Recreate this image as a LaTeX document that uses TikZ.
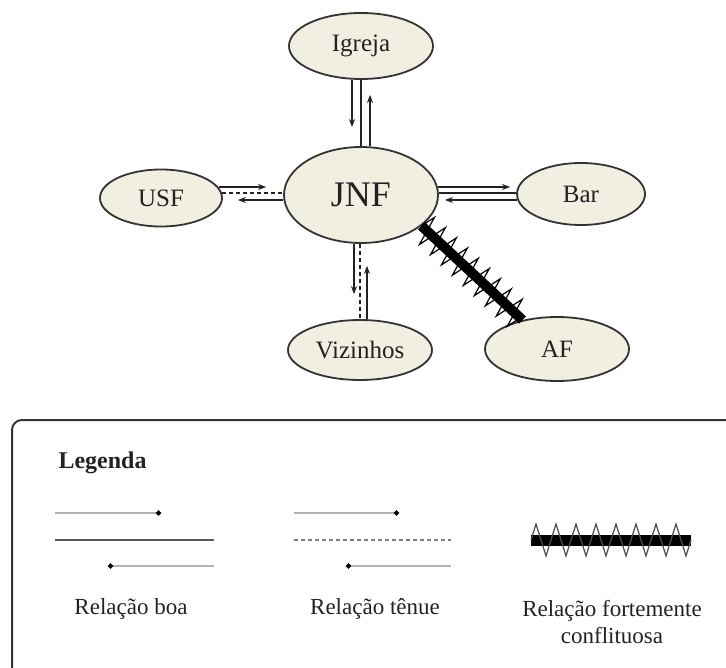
\documentclass[tikz,border=0pt]{standalone}
\usepackage{fontspec}
\setmainfont{Liberation Serif}
\usetikzlibrary{shapes.geometric,arrows.meta,decorations.pathmorphing}

\begin{document}
\begin{tikzpicture}[x=1pt, y=-1pt, >={Stealth[length=8pt,width=6pt]}]
	
	% ==========================================
	% 1. CORES
	% ==========================================
	\definecolor{elipcol}{RGB}{241, 239, 226}   % creme das elipses
	\definecolor{bordacol}{RGB}{51, 51, 51}     % contorno
	\definecolor{linhacol}{RGB}{34, 34, 34}     % linhas e texto
	\definecolor{legcol}{RGB}{180, 180, 180}    % linhas claras da legenda
	
	% ==========================================
	% 2. ESTILOS
	% ==========================================
	\tikzset{
		ator/.style={ellipse, draw=bordacol, line width=1.8pt, fill=elipcol, inner sep=0pt,
			font=\fontsize{25}{30}\selectfont, text=linhacol},
		boa/.style={line width=1.4pt, draw=linhacol},
		tenue/.style={line width=1.4pt, draw=linhacol, dash pattern=on 4pt off 3pt},
		conflito/.style={line width=10pt, draw=black,
			postaction={draw, line width=1.2pt, decorate,
				decoration={zigzag, amplitude=15pt, segment length=15pt}}},
		legseta/.style={line width=1.5pt, draw=legcol, -{Circle[length=5pt, color=black]}},
		legtxt/.style={font=\fontsize{23}{27}\selectfont, text=linhacol}
	}
	
	\clip (0,0) rectangle (726,668);
	
	% ==========================================
	% 3. ELIPSES (ATORES)
	% ==========================================
	\node[ator, minimum width=154pt, minimum height=96pt, font=\fontsize{36}{40}\selectfont] (jnf) at (361,195) {JNF};
	\node[ator, minimum width=144pt, minimum height=66pt] (igreja) at (361,46) {Igreja};
	\node[ator, minimum width=122pt, minimum height=57pt] (usf) at (161,198) {USF};
	\node[ator, minimum width=128pt, minimum height=62pt] (bar) at (581,194) {Bar};
	\node[ator, minimum width=144pt, minimum height=60pt] (viz) at (360,350) {Vizinhos};
	\node[ator, minimum width=144pt, minimum height=64pt] (af) at (557,349) {AF};
	
	% ==========================================
	% 4. RELACOES
	% ==========================================
	% Igreja - JNF (boa)
	\draw[boa, ->, shorten >=19pt] ([xshift=-9pt]igreja.south) -- ([xshift=-9pt]igreja.south |- jnf.north);
	\draw[boa] (igreja.south) -- (igreja.south |- jnf.north);
	\draw[boa, ->, shorten >=15pt] ([xshift=9pt]igreja.south |- jnf.north) -- ([xshift=9pt]igreja.south);
	
	% USF - JNF (tenue)
	\draw[boa, ->, shorten >=17pt] ([yshift=11pt, xshift=-4pt]usf.east) -- ([yshift=11pt]usf.east -| jnf.west);
	\draw[tenue] ([yshift=5pt, xshift=-1pt]usf.east) -- ([yshift=5pt]usf.east -| jnf.west);
	\draw[boa, ->, shorten >=15pt] ([yshift=-2pt]usf.east -| jnf.west) -- ([yshift=-2pt]usf.east);
	
	% JNF - Bar (boa)
	\draw[boa, ->, shorten >=8pt] ([yshift=8pt, xshift=-1pt]jnf.east) -- ([yshift=8pt, xshift=2pt]jnf.east -| bar.west);
	\draw[boa] ([yshift=2pt]jnf.east) -- ([yshift=2pt]jnf.east -| bar.west);
	\draw[boa, ->, shorten >=7pt] ([yshift=-5pt, xshift=1pt]jnf.east -| bar.west) -- ([yshift=-5pt, xshift=-1pt]jnf.east);
	
	% JNF - Vizinhos (tenue)
	\draw[boa, ->, shorten >=25pt] ([xshift=-7pt]jnf.south) -- ([xshift=-7pt]jnf.south |- viz.north);
	\draw[tenue] ([xshift=-1pt]jnf.south) -- ([xshift=-1pt]jnf.south |- viz.north);
	\draw[boa, ->, shorten >=22pt] ([xshift=6pt]jnf.south |- viz.north) -- ([xshift=6pt]jnf.south);
	
	% JNF - AF (fortemente conflituosa)
	\draw[conflito] (jnf.-27) -- (af.140);
	
	% ==========================================
	% 5. LEGENDA
	% ==========================================
	\draw[line width=2pt, draw=bordacol, rounded corners=10pt] (12,420) rectangle (760,700);
	\node[anchor=west, font=\fontsize{24}{28}\selectfont\bfseries, text=linhacol] (legenda) at (55,463) {Legenda};
	
	% relacao boa
	\draw[legseta] (55,513) -- (161,513);
	\draw[line width=1.5pt, draw=gray!70!black] (55,540) -- (214,540);
	\draw[legseta] (214,566) -- (108,566);
	
	% relacao tenue
	\draw[legseta] (294,513) -- (399,513);
	\draw[line width=1.2pt, draw=gray, dash pattern=on 4pt off 3pt] (294,540) -- (451,540);
	\draw[legseta] (451,566) -- (346,566);
	
	% relacao fortemente conflituosa
	\draw[line width=11pt, draw=black, postaction={draw, line width=1.2pt, draw=gray!60!black, decorate,
		decoration={zigzag, amplitude=16pt, segment length=20pt}}] (531,540) -- (691,540);
	
	\node[legtxt] (tboa) at (131,609) {Relação boa};
	\node[legtxt] (ttenue) at (375,609) {Relação tênue};
	\node[legtxt, align=center] (tconf) at (612,622) {Relação fortemente\\conflituosa};
	
\end{tikzpicture}
\end{document}
